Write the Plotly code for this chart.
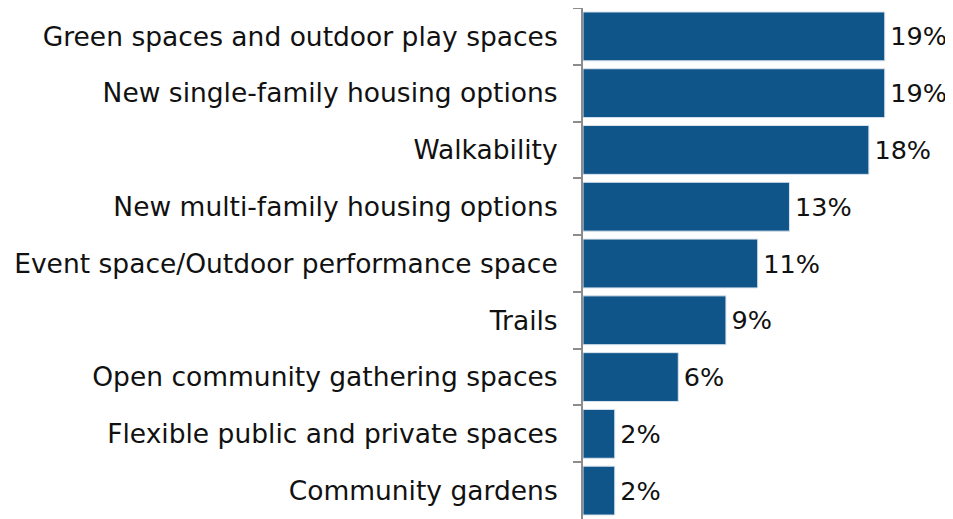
import plotly.graph_objects as go

categories = [
    "Green spaces and outdoor play spaces",
    "New single-family housing options",
    "Walkability",
    "New multi-family housing options",
    "Event space/Outdoor performance space",
    "Trails",
    "Open community gathering spaces",
    "Flexible public and private spaces",
    "Community gardens",
]
values = [19, 19, 18, 13, 11, 9, 6, 2, 2]
labels = ["19%", "19%", "18%", "13%", "11%", "9%", "6%", "2%", "2%"]

fig = go.Figure(
    go.Bar(
        x=values, y=categories, orientation="h",
        marker=dict(color="#10558A", line=dict(color="#d8e2ec", width=1)),
        text=["\u200a" + t for t in labels], textposition="outside", cliponaxis=False,
        textfont=dict(size=25.5, color="#111"),
    )
)

# page body adds an 8px margin, so offsets are 8px smaller than in the picture
fig.update_layout(
    width=953, height=511,
    margin=dict(l=575, r=0, t=0, b=0),
    plot_bgcolor="white", paper_bgcolor="white",
    font=dict(family="DejaVu Sans", size=26.5, color="#111"),
    bargap=0.14, showlegend=False,
)
fig.update_xaxes(range=[0, 23.8], visible=False)
fig.update_yaxes(
    autorange="reversed", automargin=False,
    showline=True, linecolor="#8c8c8c", linewidth=2,
    ticks="outside", ticklen=8, tickcolor="#8c8c8c", tickwidth=2,
    tickson="boundaries", ticklabelstandoff=18, showgrid=False,
)

fig.write_html("out.html")
